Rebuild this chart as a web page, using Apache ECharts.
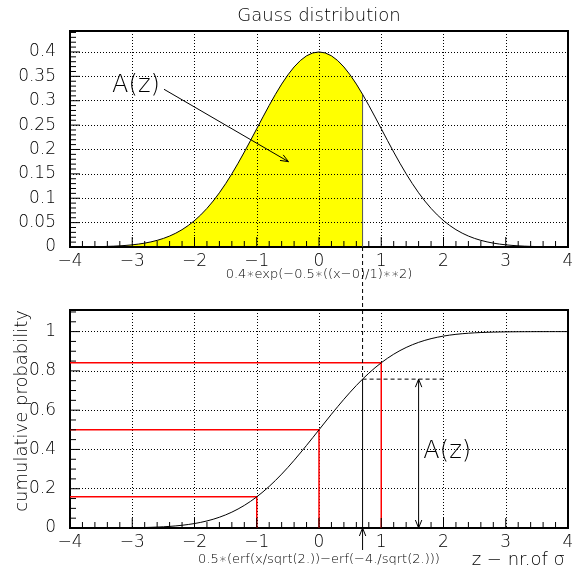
<!DOCTYPE html>
<html><head><meta charset="utf-8">
<script src="https://cdn.jsdelivr.net/npm/echarts@6/dist/echarts.min.js"></script>
<style>html,body{margin:0;padding:0;background:#fff}#c{width:578px;height:579px}</style>
</head><body><div id="c"></div>
<script>
// ---- data ----
const zValues = [-4.0,-3.9,-3.8,-3.7,-3.6,-3.5,-3.4,-3.3,-3.2,-3.1,-3.0,-2.9,-2.8,-2.7,-2.6,-2.5,-2.4,-2.3,-2.2,-2.1,
  -2.0,-1.9,-1.8,-1.7,-1.6,-1.5,-1.4,-1.3,-1.2,-1.1,-1.0,-0.9,-0.8,-0.7,-0.6,-0.5,-0.4,-0.3,-0.2,-0.1,
  0.0,0.1,0.2,0.3,0.4,0.5,0.6,0.7,0.8,0.9,1.0,1.1,1.2,1.3,1.4,1.5,1.6,1.7,1.8,1.9,
  2.0,2.1,2.2,2.3,2.4,2.5,2.6,2.7,2.8,2.9,3.0,3.1,3.2,3.3,3.4,3.5,3.6,3.7,3.8,3.9,4.0];
const gaussValues = [0.00013,0.00020,0.00029,0.00043,0.00061,0.00087,0.00124,0.00173,0.00239,0.00328,
  0.00444,0.00597,0.00794,0.01045,0.01362,0.01757,0.02245,0.02840,0.03557,0.04410,
  0.05413,0.06579,0.07916,0.09430,0.11121,0.12986,0.15012,0.17182,0.19470,0.21843,
  0.24261,0.26679,0.29046,0.31308,0.33411,0.35300,0.36925,0.38240,0.39208,0.39800,
  0.40000,
  0.39800,0.39208,0.38240,0.36925,0.35300,0.33411,0.31308,0.29046,0.26679,0.24261,
  0.21843,0.19470,0.17182,0.15012,0.12986,0.11121,0.09430,0.07916,0.06579,0.05413,
  0.04410,0.03557,0.02840,0.02245,0.01757,0.01362,0.01045,0.00794,0.00597,0.00444,
  0.00328,0.00239,0.00173,0.00124,0.00087,0.00061,0.00043,0.00029,0.00020,0.00013];
const cdfValues = [0.00000,0.00002,0.00004,0.00008,0.00013,0.00020,0.00031,0.00045,0.00066,0.00094,
  0.00132,0.00184,0.00253,0.00344,0.00463,0.00618,0.00817,0.01069,0.01387,0.01783,
  0.02272,0.02869,0.03590,0.04454,0.05477,0.06678,0.08073,0.09677,0.11504,0.13564,
  0.15863,0.18403,0.21183,0.24193,0.27422,0.30851,0.34455,0.38206,0.42071,0.46014,
  0.49997,
  0.53980,0.57923,0.61788,0.65539,0.69143,0.72572,0.75801,0.78811,0.81591,0.84131,
  0.86430,0.88490,0.90317,0.91921,0.93316,0.94517,0.95540,0.96404,0.97125,0.97722,
  0.98211,0.98607,0.98925,0.99177,0.99376,0.99531,0.99650,0.99741,0.99810,0.99862,
  0.99900,0.99928,0.99949,0.99963,0.99974,0.99981,0.99986,0.99990,0.99992,0.99994];
const zCut = 0.7;                 // upper limit of A(z)
const refZ = [-1, 0, 1];           // red reference sigmas
const refP = [0.159, 0.5, 0.841];  // cumulative probability at those sigmas
const xTicks = [-4, -3, -2, -1, 0, 1, 2, 3, 4];
const yTicksTop = [0, 0.05, 0.1, 0.15, 0.2, 0.25, 0.3, 0.35, 0.4];
const yTicksBot = [0, 0.2, 0.4, 0.6, 0.8, 1];

// ---- derived ----
const FONT = 'DejaVu Sans';
const FW = 200;
const cutIdx = zValues.indexOf(zCut);
const pCut = cdfValues[cutIdx];
const gCut = gaussValues[cutIdx];
const gaussPts = zValues.map((z, i) => [z, gaussValues[i]]);
const fillPts = gaussPts.slice(0, cutIdx + 1);
const cdfPts = zValues.map((z, i) => [z, cdfValues[i]]);
const fmt = v => String(v).replace('-', '\u2212');
const r6 = v => Math.round(v * 1e6) / 1e6;

// tick marks (major + minor) in axis units: [dim, value, isMajor]
function tickItems(majors, minorSplit, maxVal, dim) {
  const out = [];
  const step = (majors[1] - majors[0]) / minorSplit;
  const n = Math.floor(r6((maxVal - majors[0]) / step));
  for (let k = 0; k <= n; k++) out.push([dim, r6(majors[0] + k * step), k % minorSplit === 0 ? 1 : 0]);
  return out;
}
const topTicks = tickItems(xTicks, 5, 4, 0).concat(tickItems(yTicksTop, 5, 0.443, 1));
const botTicks = tickItems(xTicks, 5, 4, 0).concat(tickItems(yTicksBot, 4, 1.11, 1));

const chart = echarts.init(document.getElementById('c'), null, {renderer: 'canvas'});

function xAxisCfg(gi) {
  return {
    gridIndex: gi, type: 'value', min: xTicks[0], max: xTicks[xTicks.length - 1], interval: 1,
    axisLine: {show: true, onZero: false, lineStyle: {color: '#000', width: 2}},
    axisTick: {show: false},
    splitLine: {show: true, lineStyle: {color: '#000', type: [1, 2], width: 1}},
    axisLabel: {color: '#000', fontSize: 17, fontFamily: FONT, fontWeight: FW, margin: 6, formatter: fmt}
  };
}
function yAxisCfg(gi, max, interval) {
  return {
    gridIndex: gi, type: 'value', min: 0, max: max, interval: interval,
    axisLine: {show: true, onZero: false, lineStyle: {color: '#000', width: 2}},
    axisTick: {show: false},
    splitLine: {show: true, lineStyle: {color: '#000', type: [1, 2], width: 1}},
    axisLabel: {color: '#000', fontSize: 17, fontFamily: FONT, fontWeight: FW, margin: 14, showMaxLabel: false, formatter: fmt}
  };
}

// annotation segments: [x1, y1, x2, y2, heads(0 none,1 end,2 both), dashed]
const topSegs = [
  [-2.49, 0.3235, -0.49, 0.175, 1, 0],
  [zCut, 0, zCut, -0.13, 0, 1]
];
const botSegs = [
  [zCut, 1.11, zCut, pCut, 0, 1],
  [zCut, pCut, 2.0, pCut, 0, 1],
  [zCut, -0.112, zCut, 0, 1, 0],
  [zCut, 0, zCut, pCut, 0, 0],
  [1.6, pCut, 1.6, 0, 2, 0]
];
function segRender(params, api) {
  const p1 = api.coord([api.value(0), api.value(1)]);
  const p2 = api.coord([api.value(2), api.value(3)]);
  const heads = api.value(4), dashed = api.value(5);
  const ch = [{type: 'line', shape: {x1: p1[0], y1: p1[1], x2: p2[0], y2: p2[1]},
    style: {stroke: '#000', lineWidth: 1, lineDash: dashed ? [4, 3] : null}}];
  const head = (tip, from) => {
    const dx = tip[0] - from[0], dy = tip[1] - from[1];
    const L = Math.hypot(dx, dy), ux = dx / L, uy = dy / L, len = 8, w = 3.2;
    return {type: 'polyline', shape: {points: [
      [tip[0] - ux * len - uy * w, tip[1] - uy * len + ux * w], tip,
      [tip[0] - ux * len + uy * w, tip[1] - uy * len - ux * w]]},
      style: {stroke: '#000', fill: null, lineWidth: 1}};
  };
  if (heads >= 1) ch.push(head(p2, p1));
  if (heads >= 2) ch.push(head(p1, p2));
  return {type: 'group', children: ch};
}
function textRender(params, api) {
  const p = api.coord([api.value(0), api.value(1)]);
  return {type: 'text', x: p[0], y: p[1], style: {text: 'A(z)', fill: '#000', font: FW + ' 24px "' + FONT + '"', align: 'center', verticalAlign: 'middle'}};
}
function tickRender(params, api) {
  const dim = api.value(0), v = api.value(1), major = api.value(2);
  const len = major ? 10 : 6;
  let p;
  if (dim === 0) {
    p = api.coord([v, 0]);
    return {type: 'line', shape: {x1: p[0], y1: p[1], x2: p[0], y2: p[1] - len}, style: {stroke: '#000', lineWidth: 1}};
  }
  p = api.coord([xTicks[0], v]);
  return {type: 'line', shape: {x1: p[0], y1: p[1], x2: p[0] + len, y2: p[1]}, style: {stroke: '#000', lineWidth: 1}};
}

const redSeries = refZ.map((z, i) => ({
  type: 'line', xAxisIndex: 1, yAxisIndex: 1, symbol: 'none', silent: true, z: 3,
  lineStyle: {color: '#ff0000', width: 1.5},
  data: [[xTicks[0], refP[i]], [z, refP[i]], [z, 0]]
}));

chart.setOption({
  animation: false,
  backgroundColor: '#fff',
  grid: [
    {left: 70, right: 10, top: 31, height: 216, show: true, borderColor: '#000', borderWidth: 2, backgroundColor: 'transparent'},
    {left: 70, right: 10, top: 310, height: 218, show: true, borderColor: '#000', borderWidth: 2, backgroundColor: 'transparent'}
  ],
  xAxis: [xAxisCfg(0), xAxisCfg(1)],
  yAxis: [yAxisCfg(0, 0.443, 0.05), yAxisCfg(1, 1.11, 0.2)],
  graphic: [
    {type: 'text', x: 319, y: 16, style: {text: 'Gauss distribution', font: FW + ' 18px "' + FONT + '"', fill: '#000', align: 'center', verticalAlign: 'middle'}},
    {type: 'text', x: 319, y: 275, style: {text: '0.4\u2217exp(\u22120.5\u2217((x\u22120)/1)\u2217\u22172)', font: FW + ' 13px "' + FONT + '"', fill: '#000', align: 'center', verticalAlign: 'middle'}},
    {type: 'text', x: 319, y: 560, style: {text: '0.5\u2217(erf(x/sqrt(2.))\u2212erf(\u22124./sqrt(2.)))', font: FW + ' 13px "' + FONT + '"', fill: '#000', align: 'center', verticalAlign: 'middle'}},
    {type: 'text', x: 565, y: 560, style: {text: 'z \u2212 nr.of \u03c3', font: FW + ' 18px "' + FONT + '"', fill: '#000', align: 'right', verticalAlign: 'middle'}},
    {type: 'text', x: 22, y: 310, rotation: Math.PI / 2, style: {text: 'cumulative probability', font: FW + ' 18px "' + FONT + '"', fill: '#000', align: 'right', verticalAlign: 'middle'}}
  ],
  series: [
    {type: 'line', xAxisIndex: 0, yAxisIndex: 0, data: fillPts, symbol: 'none', silent: true, z: -1,
      lineStyle: {width: 0}, areaStyle: {color: '#ffff00', opacity: 1, origin: 'start'}},
    {type: 'line', xAxisIndex: 0, yAxisIndex: 0, data: [[zCut, 0], [zCut, gCut]], symbol: 'none', silent: true, z: 2,
      lineStyle: {color: '#555', width: 1}},
    {type: 'line', xAxisIndex: 0, yAxisIndex: 0, data: gaussPts, symbol: 'none', silent: true, z: 3,
      lineStyle: {color: '#000', width: 1}},
    {type: 'custom', xAxisIndex: 0, yAxisIndex: 0, clip: false, silent: true, z: 5, renderItem: tickRender, data: topTicks},
    {type: 'custom', xAxisIndex: 0, yAxisIndex: 0, clip: false, silent: true, z: 4, renderItem: segRender, data: topSegs},
    {type: 'custom', xAxisIndex: 0, yAxisIndex: 0, clip: false, silent: true, z: 4, renderItem: textRender, data: [[-2.94, 0.331]]},
    ...redSeries,
    {type: 'line', xAxisIndex: 1, yAxisIndex: 1, data: cdfPts, symbol: 'none', silent: true, z: 3,
      lineStyle: {color: '#000', width: 1}},
    {type: 'custom', xAxisIndex: 1, yAxisIndex: 1, clip: false, silent: true, z: 5, renderItem: tickRender, data: botTicks},
    {type: 'custom', xAxisIndex: 1, yAxisIndex: 1, clip: false, silent: true, z: 4, renderItem: segRender, data: botSegs},
    {type: 'custom', xAxisIndex: 1, yAxisIndex: 1, clip: false, silent: true, z: 4, renderItem: textRender, data: [[2.06, 0.388]]}
  ]
});
</script>
</body></html>
